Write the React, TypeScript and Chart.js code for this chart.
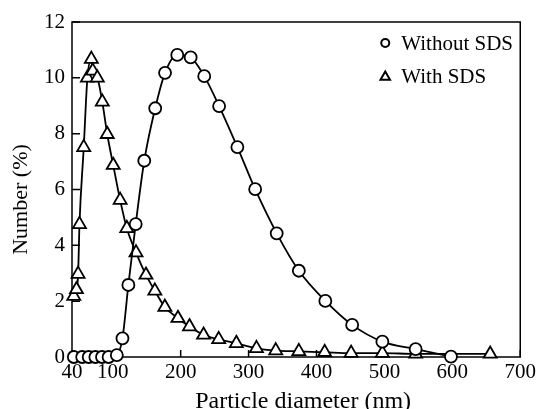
import React, { useEffect, useRef } from 'react';
import { Chart, registerables } from 'chart.js';

Chart.register(...registerables);

const FONT = "'Liberation Serif', 'Times New Roman', serif";

const withoutSdsLabel = 'Without SDS';
const withSdsLabel = 'With SDS';
const xTitle = 'Particle diameter (nm)';
const yTitle = 'Number (%)';

const withoutSdsX = [42.7, 55, 64.6, 74.4, 84.2, 93.9, 106, 114.3, 123, 133.8, 146.4, 162.5, 177, 195, 214.7, 234.7, 256.6, 283.5, 309.7, 341.4, 374, 413, 452.5, 497, 546, 598];
const withoutSdsY = [0, 0, 0, 0, 0, 0, 0.07, 0.67, 2.58, 4.76, 7.03, 8.91, 10.18, 10.82, 10.73, 10.06, 8.99, 7.52, 6.01, 4.43, 3.09, 2.01, 1.15, 0.55, 0.28, 0.01];

const withSdsX = [42.6, 46.6, 49, 51, 57.3, 62.7, 68.5, 70.5, 77.3, 84.6, 91.9, 100.7, 110.9, 120.7, 134.3, 148.9, 162, 176.7, 196, 213, 233.7, 256, 282, 311.6, 340, 374, 412, 451, 497, 546, 655.7];
const withSdsY = [2.18, 2.42, 2.97, 4.75, 7.51, 10.0, 10.67, 10.25, 10.0, 9.14, 7.98, 6.87, 5.62, 4.61, 3.74, 2.94, 2.37, 1.79, 1.39, 1.09, 0.79, 0.63, 0.49, 0.31, 0.23, 0.2, 0.17, 0.14, 0.14, 0.11, 0.11];

const xTicks = [40, 100, 200, 300, 400, 500, 600, 700];
const yTicks = [0, 2, 4, 6, 8, 10, 12];

const framePlugin = {
  id: 'frameAndTicks',
  beforeDatasetsDraw(chart: any) {
    const { ctx, chartArea: a, scales } = chart;
    ctx.save();
    ctx.strokeStyle = '#000';
    ctx.lineWidth = 1.5;
    ctx.strokeRect(a.left, a.top, a.right - a.left, a.bottom - a.top);
    ctx.beginPath();
    for (const v of xTicks) {
      const px = scales.x.getPixelForValue(v);
      ctx.moveTo(px, a.bottom);
      ctx.lineTo(px, a.bottom - 7);
    }
    for (const v of yTicks) {
      const py = scales.y.getPixelForValue(v);
      ctx.moveTo(a.left, py);
      ctx.lineTo(a.left + 8, py);
    }
    ctx.stroke();
    ctx.restore();
  },
};

const titlesPlugin = {
  id: 'axisTitles',
  afterDraw(chart: any) {
    const { ctx, chartArea: a } = chart;
    ctx.save();
    ctx.fillStyle = '#000';
    ctx.textAlign = 'center';
    ctx.textBaseline = 'middle';
    ctx.font = `24px ${FONT}`;
    ctx.fillText(xTitle, (a.left + a.right) / 2 + 7, a.bottom + 45);
    ctx.translate(21, (a.top + a.bottom) / 2 + 10);
    ctx.rotate(-Math.PI / 2);
    ctx.font = `22px ${FONT}`;
    ctx.fillText(yTitle, 0, 0);
    ctx.restore();
  },
};

const legendPlugin = {
  id: 'insideLegend',
  afterDraw(chart: any) {
    const { ctx, chartArea: a } = chart;
    const mx = a.right - 135;
    const tx = a.right - 119;
    const y1 = a.top + 21;
    const y2 = a.top + 55;
    ctx.save();
    ctx.strokeStyle = '#000';
    ctx.fillStyle = '#fff';
    ctx.lineWidth = 2;
    ctx.beginPath();
    ctx.arc(mx, y1, 4, 0, Math.PI * 2);
    ctx.fill();
    ctx.stroke();
    const r = 5.5;
    ctx.beginPath();
    ctx.moveTo(mx, y2 - r);
    ctx.lineTo(mx + r * 0.866, y2 + r * 0.5);
    ctx.lineTo(mx - r * 0.866, y2 + r * 0.5);
    ctx.closePath();
    ctx.fill();
    ctx.stroke();
    ctx.fillStyle = '#000';
    ctx.font = `21px ${FONT}`;
    ctx.textBaseline = 'middle';
    ctx.textAlign = 'left';
    ctx.fillText(chart.data.datasets[0].label, tx, y1 + 1);
    ctx.fillText(chart.data.datasets[1].label, tx, y2);
    ctx.restore();
  },
};

export default function App() {
  const ref = useRef<HTMLCanvasElement>(null);

  useEffect(() => {
    const toPts = (xs: number[], ys: number[]) => xs.map((x, i) => ({ x, y: ys[i] }));
    const chart = new Chart(ref.current as HTMLCanvasElement, {
      type: 'line',
      data: {
        datasets: [
          {
            label: withoutSdsLabel,
            data: toPts(withoutSdsX, withoutSdsY),
            borderColor: '#000',
            borderWidth: 1.8,
            backgroundColor: '#fff',
            pointStyle: 'circle',
            pointRadius: 6,
            pointBorderWidth: 1.8,
            pointBorderColor: '#000',
            pointBackgroundColor: '#fff',
            cubicInterpolationMode: 'monotone',
            clip: false as any,
          },
          {
            label: withSdsLabel,
            data: toPts(withSdsX, withSdsY),
            borderColor: '#000',
            borderWidth: 1.8,
            backgroundColor: '#fff',
            pointStyle: 'triangle',
            pointRadius: 7.5,
            pointBorderWidth: 1.8,
            pointBorderColor: '#000',
            pointBackgroundColor: '#fff',
            cubicInterpolationMode: 'monotone',
            clip: false as any,
          },
        ],
      },
      options: {
        responsive: false,
        animation: false,
        devicePixelRatio: 1,
        layout: { padding: { top: 22, right: 16, left: 0, bottom: 0 } },
        plugins: { legend: { display: false }, tooltip: { enabled: false } },
        scales: {
          x: {
            type: 'linear',
            min: 40,
            max: 700,
            grid: { display: false, drawTicks: false },
            border: { display: false },
            afterBuildTicks: (s: any) => {
              s.ticks = xTicks.map((v) => ({ value: v }));
            },
            afterFit: (s: any) => {
              s.height = 52;
            },
            ticks: {
              color: '#000',
              font: { family: FONT, size: 21 },
              padding: 3,
              maxRotation: 0,
              autoSkip: false,
              callback: (v: any) => String(v),
            },
            title: { display: false, text: xTitle },
          },
          y: {
            type: 'linear',
            min: 0,
            max: 12,
            grid: { display: false, drawTicks: false },
            border: { display: false },
            afterBuildTicks: (s: any) => {
              s.ticks = yTicks.map((v) => ({ value: v }));
            },
            afterFit: (s: any) => {
              s.width = 72;
            },
            ticks: {
              color: '#000',
              font: { family: FONT, size: 21 },
              padding: 7,
              autoSkip: false,
              callback: (v: any) => String(v),
            },
            title: { display: false, text: yTitle },
          },
        },
      },
      plugins: [framePlugin, titlesPlugin, legendPlugin],
    });
    return () => chart.destroy();
  }, []);

  return (
    <div style={{ position: 'absolute', left: 0, top: 0, width: 539, height: 409 }}>
      <canvas ref={ref} width={539} height={409} style={{ display: 'block', width: 539, height: 409 }} />
    </div>
  );
}
